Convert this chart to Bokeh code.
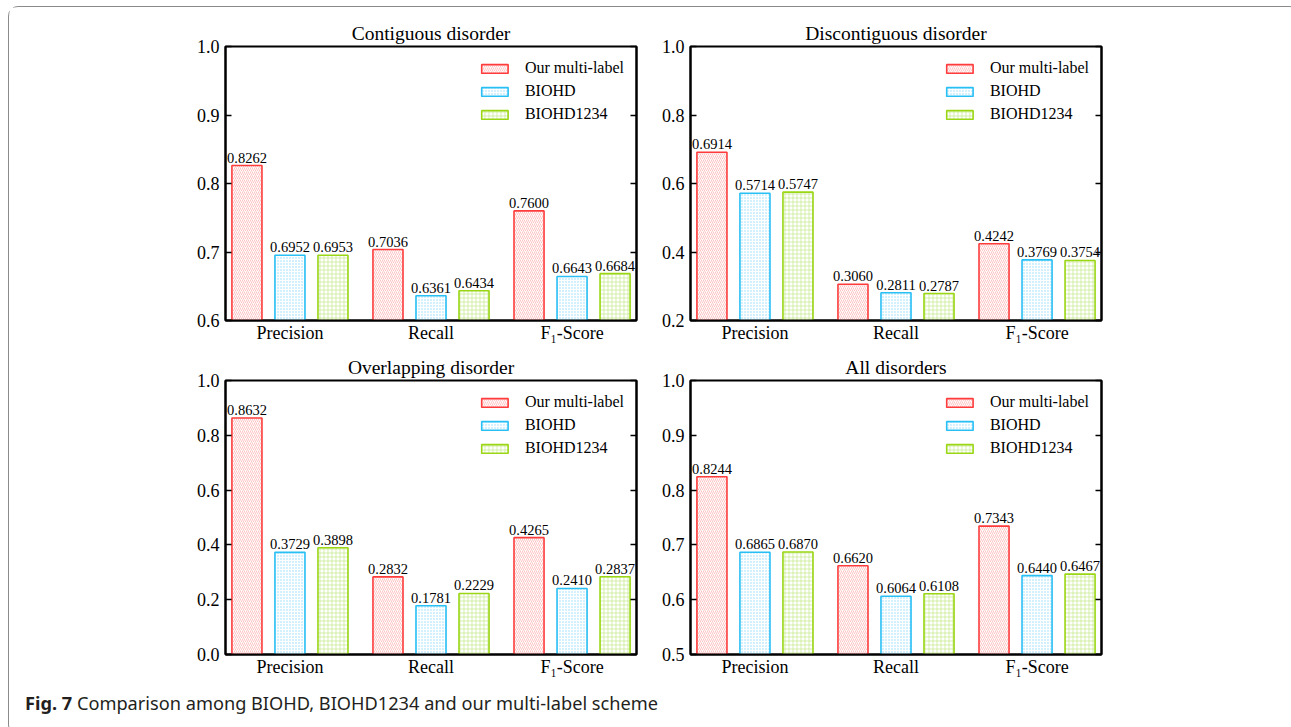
from bokeh.plotting import figure
from bokeh.models import (Range1d, LinearAxis, FixedTicker, Legend, LegendItem,
                          ColumnDataSource, Div, PrintfTickFormatter)
from bokeh.layouts import column, row
from bokeh.embed import file_html
from bokeh.resources import INLINE
from bokeh.core.properties import value

# ---------------- data ----------------
categories = ["Precision", "Recall", "F\u2081-Score"]
series_names = ["Our multi-label", "BIOHD", "BIOHD1234"]

titles = ["Contiguous disorder", "Discontiguous disorder",
          "Overlapping disorder", "All disorders"]

contiguous_ours = [0.8262, 0.7036, 0.7600]
contiguous_biohd = [0.6952, 0.6361, 0.6643]
contiguous_biohd1234 = [0.6953, 0.6434, 0.6684]

discontiguous_ours = [0.6914, 0.3060, 0.4242]
discontiguous_biohd = [0.5714, 0.2811, 0.3769]
discontiguous_biohd1234 = [0.5747, 0.2787, 0.3754]

overlapping_ours = [0.8632, 0.2832, 0.4265]
overlapping_biohd = [0.3729, 0.1781, 0.2410]
overlapping_biohd1234 = [0.3898, 0.2229, 0.2837]

all_ours = [0.8244, 0.6620, 0.7343]
all_biohd = [0.6865, 0.6064, 0.6440]
all_biohd1234 = [0.6870, 0.6108, 0.6467]

yticks_contiguous = [0.6, 0.7, 0.8, 0.9, 1.0]
yticks_discontiguous = [0.2, 0.4, 0.6, 0.8, 1.0]
yticks_overlapping = [0.0, 0.2, 0.4, 0.6, 0.8, 1.0]
yticks_all = [0.5, 0.6, 0.7, 0.8, 0.9, 1.0]

caption_bold = "Fig. 7"
caption_text = "Comparison among BIOHD, BIOHD1234 and our multi-label scheme"

# ---------------- styles ----------------
SERIF = "Liberation Serif"
line_colors = ["#ff3b3b", "#28bff5", "#9ad613"]
hatch_colors = ["#ffa8a8", "#8fd8fb", "#c4e88a"]
hatch_patterns = ["right_diagonal_line", "dot", "cross"]
hatch_scales = [4, 3, 4]
offsets = [-0.305, 0.0, 0.305]
BAR_W = 0.213


def make_panel(title, vals, yticks, w, h, bl, br, bt, bb):
    y0 = yticks[0]
    p = figure(width=w, height=h, x_range=Range1d(-0.457, 2.457),
               y_range=Range1d(y0, yticks[-1]),
               output_backend="svg", toolbar_location=None,
               min_border_left=bl, min_border_right=br,
               min_border_top=bt, min_border_bottom=bb, title=title)
    p.title.align = "center"
    p.title.text_font = SERIF
    p.title.text_font_style = "normal"
    p.title.text_font_size = "19.5px"
    p.title.text_color = "black"
    p.title.standoff = 6
    p.grid.visible = False
    p.outline_line_color = "black"
    p.outline_line_width = 2
    p.background_fill_color = "white"
    p.border_fill_color = "white"

    xa = p.xaxis[0]
    xa.ticker = FixedTicker(ticks=list(range(len(categories))))
    xa.major_label_overrides = {i: c for i, c in enumerate(categories)}
    xa.major_tick_line_color = None
    xa.major_tick_out = 0
    xa.major_tick_in = 0
    xa.minor_tick_line_color = None
    xa.minor_tick_out = 0
    xa.axis_line_width = 2
    xa.axis_line_color = "black"
    xa.major_label_text_font = SERIF
    xa.major_label_text_font_size = "18px"
    xa.major_label_text_color = "black"
    xa.major_label_standoff = 2

    ya = p.yaxis[0]
    ya.ticker = FixedTicker(ticks=yticks)
    ya.formatter = PrintfTickFormatter(format="%.1f")
    ya.major_tick_in = 6
    ya.major_tick_out = 0
    ya.major_tick_line_width = 1.5
    ya.minor_tick_line_color = None
    ya.minor_tick_out = 0
    ya.axis_line_width = 2
    ya.axis_line_color = "black"
    ya.major_label_text_font = SERIF
    ya.major_label_text_font_size = "18px"
    ya.major_label_text_color = "black"
    ya.major_label_standoff = 6

    ra = LinearAxis(ticker=FixedTicker(ticks=yticks), major_tick_in=6,
                    major_tick_out=0, major_tick_line_width=1.5,
                    minor_tick_line_color=None, minor_tick_out=0,
                    axis_line_width=2, axis_line_color="black",
                    major_label_text_font_size="2px",
                    major_label_text_color=None, major_label_standoff=0)
    p.add_layout(ra, "right")

    items = []
    for k, v in enumerate(vals):
        xs = [i + offsets[k] for i in range(len(categories))]
        src = ColumnDataSource(dict(x=xs, top=v, bottom=[y0] * len(v),
                                    lab=["%.4f" % t for t in v]))
        r = p.vbar(x="x", top="top", bottom="bottom", width=BAR_W, source=src,
                   fill_color="white", line_color=line_colors[k], line_width=1.6,
                   hatch_pattern=hatch_patterns[k], hatch_color=hatch_colors[k],
                   hatch_scale=hatch_scales[k], hatch_weight=0.7)
        p.text(x="x", y="top", text="lab", source=src, text_align="center",
               text_baseline="bottom", y_offset=-3, text_font=value(SERIF),
               text_font_size="14.5px", text_color="black")
        items.append(LegendItem(label=series_names[k], renderers=[r]))

    lg = Legend(items=items, location="top_right")
    lg.border_line_color = None
    lg.background_fill_alpha = 0
    lg.label_text_font = SERIF
    lg.label_text_font_size = "16px"
    lg.label_text_color = "black"
    lg.glyph_width = 33
    lg.glyph_height = 11
    lg.label_height = 20
    lg.spacing = 3
    lg.label_standoff = 14
    lg.margin = 12
    lg.padding = 13
    p.add_layout(lg)
    return p


p1 = make_panel(titles[0], [contiguous_ours, contiguous_biohd, contiguous_biohd1234],
                yticks_contiguous, 641, 343, 216, 14, 39, 30)
p2 = make_panel(titles[1], [discontiguous_ours, discontiguous_biohd, discontiguous_biohd1234],
                yticks_discontiguous, 639, 343, 40, 188, 39, 30)
p3 = make_panel(titles[2], [overlapping_ours, overlapping_biohd, overlapping_biohd1234],
                yticks_overlapping, 641, 333, 216, 14, 30, 29)
p4 = make_panel(titles[3], [all_ours, all_biohd, all_biohd1234],
                yticks_all, 639, 333, 40, 188, 30, 29)

cap = Div(text='<span style="font-weight:bold">%s</span> %s' % (caption_bold, caption_text),
          width=1280, height=41,
          styles={"font-family": "Noto Sans", "font-size": "18.2px", "color": "#231f20",
                  "padding-left": "11px", "line-height": "30px"})

layout = column(row(p1, p2), row(p3, p4), cap,
                styles={"border": "1px solid #8a8a8a", "border-radius": "10px",
                        "margin-left": "8px", "margin-top": "6px"})

open("out.html", "w").write(file_html(layout, INLINE))
